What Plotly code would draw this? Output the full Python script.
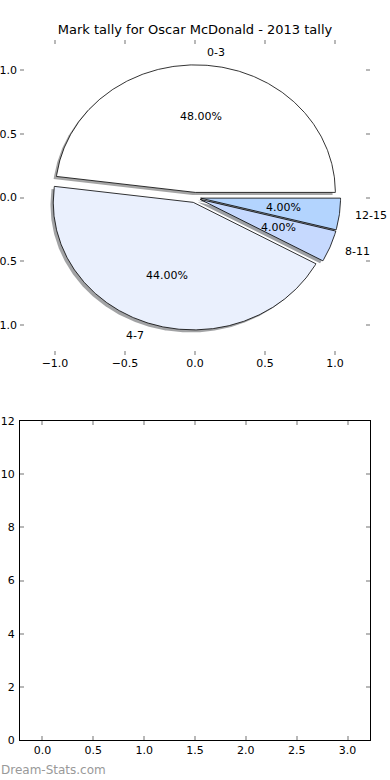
import numpy as np
import plotly.graph_objects as go

# ---- data ----
labels = ["0-3", "4-7", "8-11", "12-15"]
counts = [12, 11, 1, 1]
explode = [0.04, 0.04, 0.04, 0.04]
colors = ["#ffffff", "#eaf0fd", "#c6d9fe", "#b3d4fe"]

pie_ticks = [-1.0, -0.5, 0.0, 0.5, 1.0]
bar_xticks = [0.0, 0.5, 1.0, 1.5, 2.0, 2.5, 3.0]
bar_yticks = [0, 2, 4, 6, 8, 10, 12]

title = "Mark tally for Oscar McDonald - 2013 tally"
watermark = "Dream-Stats.com"

FONT = "DejaVu Sans"
W, H = 390, 780


def hex_rgb(h):
    h = h.lstrip("#")
    return [int(h[i:i + 2], 16) for i in (0, 2, 4)]


fig = go.Figure()
total = float(sum(counts))
shadow_traces, wedge_traces, annots = [], [], []
theta = 0.0
for lab, c, ex, col in zip(labels, counts, explode, colors):
    frac = c / total
    t1 = theta + 360.0 * frac
    tm = np.deg2rad((theta + t1) / 2.0)
    cx, cy = ex * np.cos(tm), ex * np.sin(tm)
    ang = np.deg2rad(np.linspace(theta, t1, max(int(360 * frac), 4) * 2))
    xs = np.concatenate([[cx], cx + np.cos(ang), [cx]])
    ys = np.concatenate([[cy], cy + np.sin(ang), [cy]])
    r, g, b = hex_rgb(col)
    shadow_traces.append(go.Scatter(
        x=xs - 0.02, y=ys - 0.02, mode="lines", fill="toself",
        fillcolor=f"rgba({int(0.3*r)},{int(0.3*g)},{int(0.3*b)},0.5)",
        line=dict(width=0), hoverinfo="skip", xaxis="x", yaxis="y"))
    wedge_traces.append(go.Scatter(
        x=xs, y=ys, mode="lines", fill="toself", fillcolor=col,
        line=dict(color="black", width=0.8), hoverinfo="skip",
        xaxis="x", yaxis="y"))
    # outer label
    lx, ly = cx + 1.1 * np.cos(tm), cy + 1.1 * np.sin(tm)
    annots.append(dict(x=lx, y=ly, xref="x", yref="y", text=lab,
                       showarrow=False, xanchor="left" if lx > 0 else "right",
                       yanchor="middle", font=dict(size=11, color="black", family=FONT)))
    # percent label
    px, py = cx + 0.6 * np.cos(tm), cy + 0.6 * np.sin(tm)
    annots.append(dict(x=px, y=py, xref="x", yref="y", text=f"{100*frac:.2f}%",
                       showarrow=False, xanchor="center", yanchor="middle",
                       font=dict(size=11, color="black", family=FONT)))
    theta = t1

for t in shadow_traces + wedge_traces:
    fig.add_trace(t)

# invisible trace so the lower axes exist
fig.add_trace(go.Scatter(x=[], y=[], xaxis="x2", yaxis="y2", hoverinfo="skip"))

tick_common = dict(ticks="inside", ticklen=4, tickwidth=1.5, tickcolor="#b8b8b8",
                   showgrid=False, zeroline=False, automargin=False,
                   tickfont=dict(size=11, color="black", family=FONT))

x_dom = [20 / W, 370 / W]
fig.update_layout(
    width=W, height=H, margin=dict(l=0, r=0, t=0, b=0, pad=0, autoexpand=False),
    paper_bgcolor="white", plot_bgcolor="white", showlegend=False,
    font=dict(family=FONT, color="black"),
    title=dict(text=title, x=0.5, xanchor="center", y=1 - 29 / H, yanchor="middle",
               font=dict(size=13, family=FONT, color="black")),
    xaxis=dict(domain=x_dom, anchor="y", range=[-1.25, 1.25], tickvals=pie_ticks,
               tickformat=".1f", showline=False, mirror="ticks", **tick_common),
    yaxis=dict(domain=[1 - 355 / H, 1 - 40 / H], anchor="x", range=[-1.235, 1.235],
               tickvals=pie_ticks, tickformat=".1f", showline=False, mirror="ticks",
               ticklabelstandoff=2, **tick_common),
    xaxis2=dict(domain=x_dom, anchor="y2", range=[-0.22, 3.22], tickvals=bar_xticks,
                tickformat=".1f", showline=True, linecolor="black", linewidth=1,
                mirror="ticks", **tick_common),
    yaxis2=dict(domain=[1 - 740 / H, 1 - 421 / H], anchor="x2", range=[0, 12],
                tickvals=bar_yticks, showline=True, linecolor="black", linewidth=1,
                mirror="ticks", ticklabelstandoff=2, **tick_common),
    annotations=annots + [dict(x=-1 / W, y=1 - 770 / H, xref="paper", yref="paper",
                                text=watermark, showarrow=False, xanchor="left",
                                yanchor="middle",
                                font=dict(size=12, color="#999999", family=FONT))],
)

fig.write_html("out.html", config={"displayModeBar": False},
               post_script="document.body.style.margin='0';"
                           "document.body.style.overflow='hidden';")
